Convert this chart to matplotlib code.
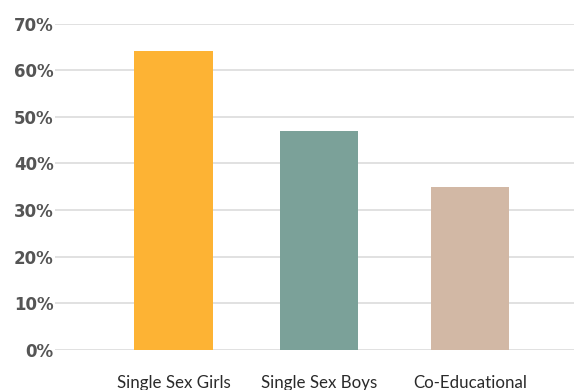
import matplotlib.pyplot as plt
from matplotlib.ticker import FuncFormatter

schools = ['Single Sex Girls', 'Single Sex Boys', 'Co-Educational']
share = [64, 47, 35]
colors = ['#FDB334', '#7BA199', '#D2B8A5']

fig = plt.figure(figsize=(5.74, 3.9), dpi=100)
ax = fig.add_axes([55 / 574, 40 / 390, 519 / 574, 326.5 / 390])

x = [0, 0.98, 2.0]
ax.bar(x, share, width=0.53, color=colors, zorder=2)

ax.set_ylim(0, 70)
ax.set_xlim(-0.8, 2.7)
ax.set_yticks(range(0, 71, 10))
ax.yaxis.set_major_formatter(FuncFormatter(lambda v, p: f'{int(v)}%'))
ax.set_xticks(x)
ax.set_xticklabels(schools)

ax.grid(axis='y', color='#dcdcdc', linewidth=1.2, zorder=0)
for s in ax.spines.values():
    s.set_visible(False)
ax.tick_params(axis='both', length=0)
ax.tick_params(axis='y', pad=1)
ax.tick_params(axis='x', pad=18)

for lbl in ax.get_yticklabels():
    lbl.set_fontfamily('DejaVu Sans')
    lbl.set_fontweight('bold')
    lbl.set_fontsize(12)
    lbl.set_color('#555555')
for lbl in ax.get_xticklabels():
    lbl.set_fontfamily('Lato')
    lbl.set_fontsize(12.2)
    lbl.set_color('#2a2a2a')

plt.savefig('out.png', dpi=100)
plt.close()
